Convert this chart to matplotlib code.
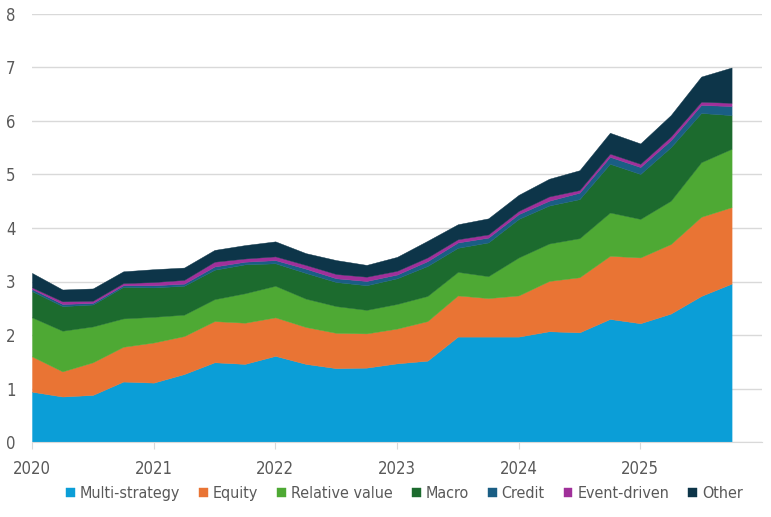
import numpy as np
import matplotlib.pyplot as plt

quarters = 2020 + 0.25 * np.arange(24)

multi_strategy = [0.94, 0.85, 0.88, 1.13, 1.11, 1.27, 1.49, 1.46, 1.61, 1.46, 1.38, 1.39,
                  1.47, 1.52, 1.97, 1.97, 1.97, 2.07, 2.05, 2.30, 2.22, 2.40, 2.73, 2.96]
equity = [0.66, 0.47, 0.61, 0.65, 0.75, 0.71, 0.77, 0.77, 0.72, 0.69, 0.66, 0.64,
          0.65, 0.74, 0.77, 0.72, 0.77, 0.94, 1.03, 1.18, 1.23, 1.30, 1.48, 1.43]
relative_value = [0.73, 0.76, 0.67, 0.53, 0.48, 0.40, 0.41, 0.55, 0.59, 0.53, 0.50, 0.44,
                  0.46, 0.47, 0.44, 0.41, 0.71, 0.70, 0.73, 0.81, 0.72, 0.81, 1.02, 1.09]
macro = [0.49, 0.46, 0.41, 0.59, 0.55, 0.54, 0.55, 0.54, 0.42, 0.48, 0.45, 0.46,
         0.48, 0.56, 0.45, 0.63, 0.72, 0.71, 0.73, 0.91, 0.84, 1.00, 0.92, 0.63]
credit = [0.04, 0.04, 0.03, 0.03, 0.04, 0.04, 0.06, 0.05, 0.06, 0.08, 0.07, 0.08,
          0.07, 0.09, 0.10, 0.09, 0.09, 0.09, 0.12, 0.13, 0.13, 0.13, 0.15, 0.17]
event_driven = [0.03, 0.05, 0.04, 0.04, 0.06, 0.07, 0.09, 0.06, 0.07, 0.07, 0.08, 0.08,
                0.07, 0.07, 0.06, 0.06, 0.06, 0.08, 0.05, 0.06, 0.06, 0.07, 0.06, 0.06]
other = [0.27, 0.22, 0.23, 0.22, 0.24, 0.23, 0.22, 0.25, 0.28, 0.22, 0.26, 0.22,
         0.26, 0.31, 0.28, 0.30, 0.30, 0.33, 0.37, 0.39, 0.38, 0.40, 0.47, 0.66]

labels = ['Multi-strategy', 'Equity', 'Relative value', 'Macro', 'Credit', 'Event-driven', 'Other']
couleurs = ['#0b9ed7', '#e97434', '#4ea934', '#1c6b2e', '#1a5e84', '#a0309a', '#0d3549']
years = [2020, 2021, 2022, 2023, 2024, 2025]

plt.rcParams['font.family'] = ['DejaVu Sans']
plt.rcParams['font.stretch'] = 'condensed'

fig = plt.figure(figsize=(7.71, 5.17), dpi=100)
ax = fig.add_axes([32 / 771, 1 - 442 / 517, 730 / 771, 428 / 517])

series = [multi_strategy, equity, relative_value, macro, credit, event_driven, other]
polys = ax.stackplot(quarters, *series, labels=labels, colors=couleurs, lw=0.3)
for p, c in zip(polys, couleurs):
    p.set_edgecolor(c)

ax.set_xlim(2020, 2026)
ax.set_ylim(0, 8)
ax.set_yticks(range(9))
ax.set_xticks(years)
ax.set_xticklabels([str(y) for y in years])
ax.grid(axis='y', color='#d9d9d9', lw=1)
ax.set_axisbelow(True)
for s in ['left', 'right', 'top']:
    ax.spines[s].set_visible(False)
ax.spines['bottom'].set_color('#d9d9d9')
ax.tick_params(axis='y', length=0, pad=12, labelsize=12, labelcolor='#595959')
ax.tick_params(axis='x', length=5, color='#d9d9d9', pad=8, labelsize=12, labelcolor='#595959')

ax.legend(loc='upper center', bbox_to_anchor=(0.51, -0.07), ncol=7, frameon=False,
          handlelength=0.55, handleheight=0.55, handletextpad=0.3, columnspacing=1.2,
          fontsize=11.5, labelcolor='#595959')

fig.savefig('out.png', dpi=100)
